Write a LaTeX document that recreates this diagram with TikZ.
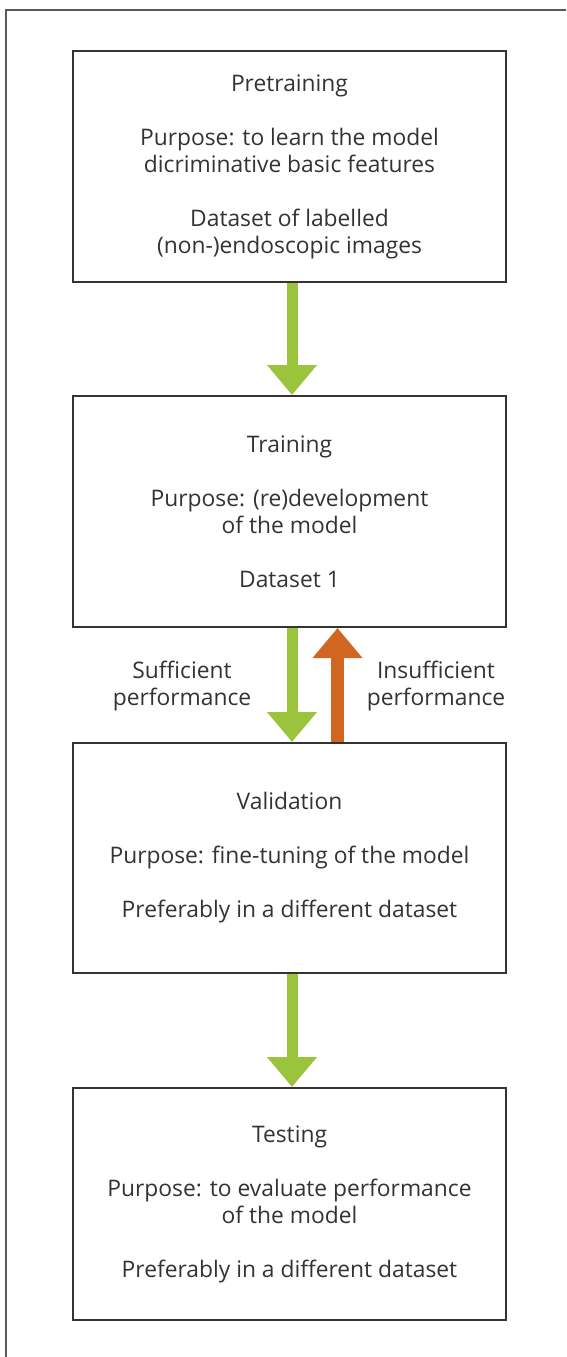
\documentclass[tikz,border=0pt]{standalone}
\usepackage{fontspec}
\setmainfont{Open Sans}
\usetikzlibrary{arrows.meta}
\definecolor{arrgreen}{HTML}{9AC43C}
\definecolor{arrorange}{HTML}{D0661F}
\definecolor{txtgray}{HTML}{333333}
\definecolor{boxline}{HTML}{333333}
\definecolor{framegray}{HTML}{5A5A5A}
\begin{document}
\begin{tikzpicture}[x=1pt,y=-1pt,
  stagebox/.style={draw=boxline, line width=2pt, fill=white, minimum width=433pt,
    align=center, text=txtgray, font=\fontsize{22.8pt}{27pt}\selectfont, inner sep=0pt},
  lbl/.style={align=center, text=txtgray, font=\fontsize{22.8pt}{27pt}\selectfont, inner sep=0pt},
  greenarrow/.style={draw=arrgreen, line width=11pt, -{Triangle[length=30pt,width=48pt]}, color=arrgreen},
  orangearrow/.style={draw=arrorange, line width=13pt, -{Triangle[length=30pt,width=48pt]}, color=arrorange}]
\useasboundingbox (0,0) rectangle (566,1357);
\fill[white] (0,0) rectangle (566,1357);
\draw[framegray, line width=2pt] (6,1357) -- (6,9.5) -- (566,9.5);

\node[stagebox, minimum height=231pt] (pre) at (289.5,166.5)
  {Pretraining\\[27pt]Purpose: to learn the model\\dicriminative basic features\\[27pt]Dataset of labelled\\(non-)endoscopic images};
\node[stagebox, minimum height=231pt] (train) at (289.5,511.5)
  {Training\\[27pt]Purpose: (re)development\\of the model\\[27pt]Dataset 1};
\node[stagebox, minimum height=230pt] (val) at (289.5,858)
  {Validation\\[27pt]Purpose: fine-tuning of the model\\[27pt]Preferably in a different dataset};
\node[stagebox, minimum height=232pt] (test) at (289.5,1204)
  {Testing\\[27pt]Purpose: to evaluate performance\\of the model\\[27pt]Preferably in a different dataset};

\node[lbl] (suf) at (182,686) {Sufficient\\performance};
\node[lbl] (insuf) at (436,686) {Insufficient\\performance};

\draw[greenarrow] ([xshift=2.5pt]pre.south) -- ([xshift=2.5pt]train.north);
\draw[greenarrow] ([xshift=2.5pt]train.south) -- ([xshift=2.5pt]val.north);
\draw[orangearrow] ([xshift=48pt]val.north) -- ([xshift=48pt]train.south);
\draw[greenarrow] ([xshift=2.5pt]val.south) -- ([xshift=2.5pt]test.north);
\end{tikzpicture}
\end{document}
